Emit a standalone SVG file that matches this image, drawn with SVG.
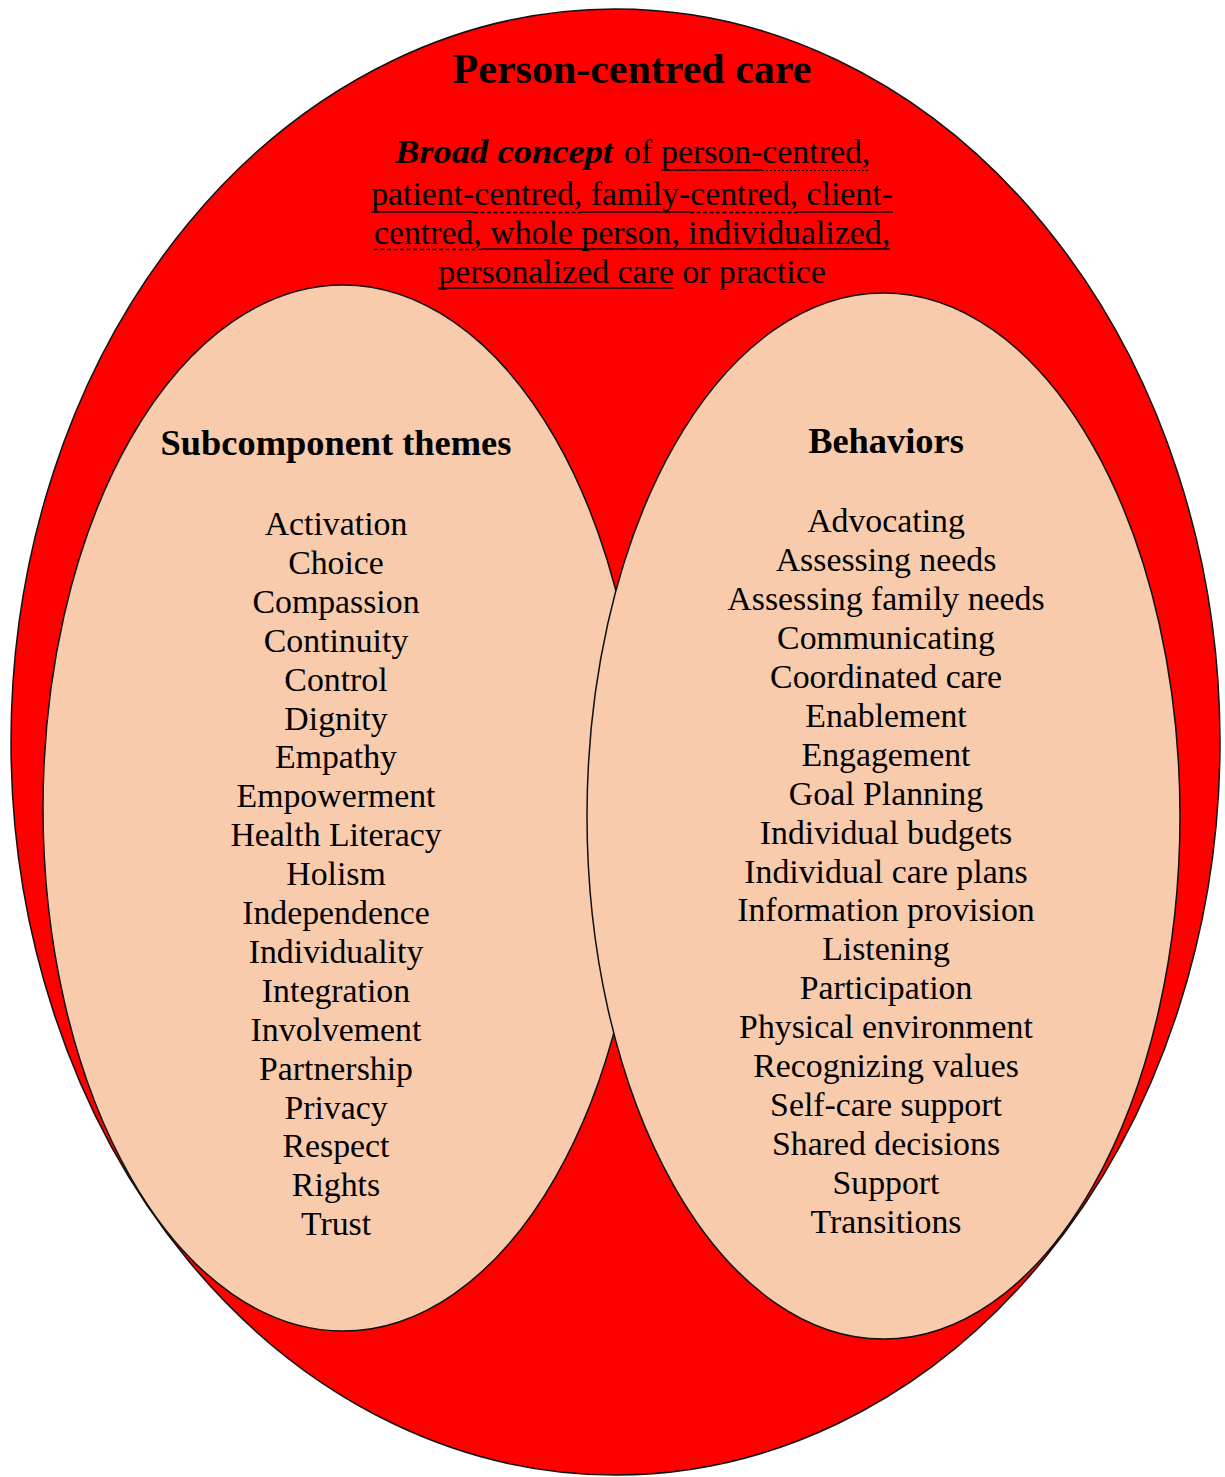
<svg xmlns="http://www.w3.org/2000/svg" width="1225" height="1477" viewBox="0 0 1225 1477">
  <style>
    .txt { font-family: "Liberation Serif", "Times New Roman", serif; fill: #000; }
    .title { font-size: 42px; font-weight: bold; text-anchor: middle; }
    .sub { font-size: 33.8px; }
    .head { font-size: 36.4px; font-weight: bold; text-anchor: middle; }
    .item { font-size: 33.8px; text-anchor: middle; }
    .ul { stroke: #000; stroke-width: 1.6; fill: none; }
    .ul-dash { stroke: #000; stroke-width: 1.4; stroke-dasharray: 4 2.5; fill: none; }
    .ul-dot { stroke: #000; stroke-width: 1.2; stroke-dasharray: 2 2; fill: none; }
    .shape { stroke: #111; stroke-width: 1.5; }
  </style>

  <!-- Outer concept: person-centred care -->
  <g id="outer">
    <ellipse class="shape" cx="615.5" cy="742" rx="604.5" ry="733" fill="#FF0000"/>
    <text class="txt title" x="632" y="83">Person-centred care</text>
    <line x1="593" y1="90" x2="728" y2="90" stroke="#a00000" stroke-width="1" stroke-dasharray="2 2" opacity="0.5"/>
    <text class="txt sub" y="163">
      <tspan x="395" font-weight="bold" font-style="italic" textLength="218" lengthAdjust="spacingAndGlyphs">Broad concept</tspan>
      <tspan x="624">of</tspan>
      <tspan x="661">person-centred,</tspan>
    </text>
    <text class="txt sub" x="632" y="205" text-anchor="middle">patient-centred, family-centred, client-</text>
    <text class="txt sub" x="632" y="244" text-anchor="middle">centred, whole person, individualized,</text>
    <text class="txt sub" x="632" y="283" text-anchor="middle">personalized care or practice</text>
    <!-- underlines: solid for the terms, dashed where spelling is flagged -->
    <line class="ul" x1="661" y1="170" x2="762" y2="170"/>
    <line class="ul-dot" x1="762" y1="170.5" x2="869" y2="170.5"/>
    <line class="ul" x1="371" y1="212" x2="474" y2="212"/>
    <line class="ul-dash" x1="474" y1="212.5" x2="582" y2="212.5"/>
    <line class="ul" x1="582" y1="212" x2="690" y2="212"/>
    <line class="ul-dash" x1="690" y1="212.5" x2="798" y2="212.5"/>
    <line class="ul" x1="798" y1="212" x2="893" y2="212"/>
    <line class="ul-dash" x1="374" y1="249.5" x2="482" y2="249.5"/>
    <line class="ul" x1="482" y1="249" x2="890" y2="249"/>
    <line class="ul" x1="438" y1="288" x2="674" y2="288"/>
  </g>

  <!-- Left set: subcomponent themes -->
  <g id="themes">
    <ellipse class="shape" cx="343" cy="808" rx="300" ry="523" fill="#F8CBAD"/>
    <text class="txt head" x="336" y="455">Subcomponent themes</text>
    <g class="txt item">
      <text x="336" y="535">Activation</text>
      <text x="336" y="573.9">Choice</text>
      <text x="336" y="612.8">Compassion</text>
      <text x="336" y="651.7">Continuity</text>
      <text x="336" y="690.6">Control</text>
      <text x="336" y="729.5">Dignity</text>
      <text x="336" y="768.4">Empathy</text>
      <text x="336" y="807.3">Empowerment</text>
      <text x="336" y="846.2">Health Literacy</text>
      <text x="336" y="885.1">Holism</text>
      <text x="336" y="924">Independence</text>
      <text x="336" y="962.9">Individuality</text>
      <text x="336" y="1001.8">Integration</text>
      <text x="336" y="1040.7">Involvement</text>
      <text x="336" y="1079.6">Partnership</text>
      <text x="336" y="1118.5">Privacy</text>
      <text x="336" y="1157.4">Respect</text>
      <text x="336" y="1196.3">Rights</text>
      <text x="336" y="1235.2">Trust</text>
    </g>
  </g>

  <!-- Right set: behaviors (drawn over the left set) -->
  <g id="behaviors">
    <ellipse class="shape" cx="883.5" cy="816" rx="296.5" ry="523" fill="#F8CBAD"/>
    <text class="txt head" x="886" y="453">Behaviors</text>
    <g class="txt item">
      <text x="886" y="532">Advocating</text>
      <text x="886" y="570.9">Assessing needs</text>
      <text x="886" y="609.9">Assessing family needs</text>
      <text x="886" y="648.8">Communicating</text>
      <text x="886" y="687.8">Coordinated care</text>
      <text x="886" y="726.7">Enablement</text>
      <text x="886" y="765.6">Engagement</text>
      <text x="886" y="804.6">Goal Planning</text>
      <text x="886" y="843.5">Individual budgets</text>
      <text x="886" y="882.5">Individual care plans</text>
      <text x="886" y="921.4">Information provision</text>
      <text x="886" y="960.3">Listening</text>
      <text x="886" y="999.3">Participation</text>
      <text x="886" y="1038.2">Physical environment</text>
      <text x="886" y="1077.2">Recognizing values</text>
      <text x="886" y="1116.1">Self-care support</text>
      <text x="886" y="1155">Shared decisions</text>
      <text x="886" y="1194">Support</text>
      <text x="886" y="1233">Transitions</text>
    </g>
  </g>

  <!-- no connectors in this diagram -->
  <g id="connectors"/>
</svg>
